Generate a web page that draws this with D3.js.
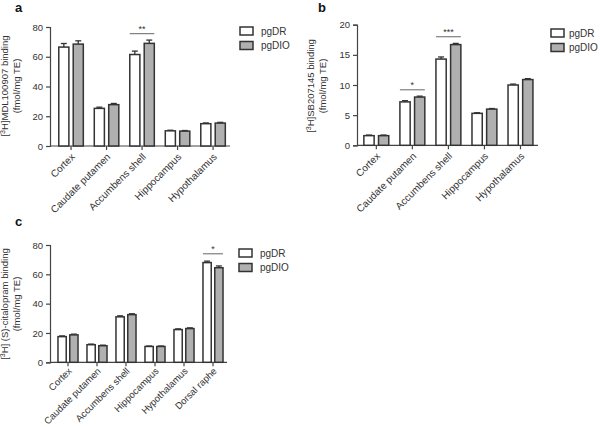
<!DOCTYPE html>
<html><head><meta charset="utf-8">
<script src="https://cdn.jsdelivr.net/npm/d3@7"></script>
<style>body{margin:0;background:#fff}svg{display:block}text{font-family:"Liberation Sans",Arial,sans-serif;fill:#333}</style>
</head><body>
<svg id="c" width="600" height="427"></svg>
<script>
const series = ["pgDR","pgDIO"];
const catsA = ["Cortex","Caudate putamen","Accumbens shell","Hippocampus","Hypothalamus"];
const drA = [66.5, 25.3, 61.5, 10.2, 15.0];
const dioA = [68.5, 27.8, 69.0, 10.0, 15.4];
const drAErr = [2.4, 0.8, 2.3, 0.4, 0.5];
const dioAErr = [2.2, 0.8, 2.2, 0.4, 0.5];
const ticksA = [0,20,40,60,80];

const catsB = ["Cortex","Caudate putamen","Accumbens shell","Hippocampus","Hypothalamus"];
const drB = [1.6, 7.2, 14.3, 5.3, 10.0];
const dioB = [1.6, 8.0, 16.7, 6.0, 10.9];
const drBErr = [0.1, 0.2, 0.35, 0.1, 0.15];
const dioBErr = [0.1, 0.15, 0.2, 0.1, 0.15];
const ticksB = [0,5,10,15,20];

const catsC = ["Cortex","Caudate putamen","Accumbens shell","Hippocampus","Hypothalamus","Dorsal raphe"];
const drC = [17.5, 12.0, 31.0, 10.8, 22.3, 68.0];
const dioC = [18.7, 11.3, 32.5, 10.8, 23.0, 64.5];
const drCErr = [0.5, 0.4, 0.7, 0.3, 0.5, 1.0];
const dioCErr = [0.5, 0.4, 0.6, 0.3, 0.5, 1.2];
const ticksC = [0,20,40,60,80];

const svg = d3.select("#c");

function panel(o){
  const g = svg.append("g");
  const y = d3.scaleLinear().domain([0, o.ymax]).range([o.y0, o.y1]);
  const x = d3.scaleBand().domain(o.cats).range([o.bx0, o.bx1]);
  const xs = d3.scaleBand().domain(series).range([0, x.bandwidth()]).paddingInner(0.3).paddingOuter(0.38);
  g.append("text").attr("x", o.lx).attr("y", o.ly).style("font-weight","bold").style("font-size","13px").style("fill","#111").text(o.letter);
  const ya = g.append("g").attr("transform",`translate(${o.ax},0)`).call(d3.axisLeft(y).tickValues(o.ticks).tickSize(4).tickPadding(3));
  ya.select(".domain").attr("stroke","#444").attr("stroke-width",1.2);
  ya.selectAll(".tick line").attr("stroke","#444").attr("stroke-width",1.2);
  ya.selectAll("text").style("font-size","9.5px").style("fill","#333");
  g.append("line").attr("x1",o.ax).attr("x2",o.axEnd).attr("y1",o.y0).attr("y2",o.y0).attr("stroke","#444").attr("stroke-width",1.2);
  o.cats.forEach(c=>{
    const cx = x(c)+x.bandwidth()/2;
    g.append("line").attr("x1",cx).attr("x2",cx).attr("y1",o.y0).attr("y2",o.y0+4).attr("stroke","#444").attr("stroke-width",1.2);
    g.append("text").attr("transform",`translate(${cx+2},${o.y0+o.labOff}) rotate(-45)`).attr("text-anchor","end").attr("dy","0.35em").style("font-size",o.labFs+"px").text(c);
  });
  const vals = [o.dr, o.dio], errs = [o.drErr, o.dioErr];
  const fills = ["#ffffff","#b0b0b0"];
  series.forEach((s,si)=>{
    o.cats.forEach((c,i)=>{
      const bx = x(c)+xs(s), bw = xs.bandwidth();
      const v = vals[si][i], e = errs[si][i];
      const mx = bx+bw/2;
      g.append("line").attr("x1",mx).attr("x2",mx).attr("y1",y(v)).attr("y2",y(v+e)).attr("stroke","#333").attr("stroke-width",1.3);
      g.append("line").attr("x1",mx-3).attr("x2",mx+3).attr("y1",y(v+e)).attr("y2",y(v+e)).attr("stroke","#333").attr("stroke-width",1.3);
      g.append("rect").attr("x",bx).attr("y",y(v)).attr("width",bw).attr("height",y(0)-y(v)).attr("fill",fills[si]).attr("stroke","#333").attr("stroke-width",1.5);
    });
  });
  o.sig.forEach(sg=>{
    const c = sg.cat;
    const xa = x(c)+xs(series[0]), xb = x(c)+xs(series[1])+xs.bandwidth();
    g.append("line").attr("x1",xa).attr("x2",xb).attr("y1",y(sg.v)).attr("y2",y(sg.v)).attr("stroke","#555").attr("stroke-width",0.9);
    g.append("text").attr("x",(xa+xb)/2).attr("y",y(sg.v)-2).attr("text-anchor","middle").style("font-size","9px").text(sg.t);
  });
  const lg = g.append("g").attr("transform",`translate(${o.ylx},${o.yly}) rotate(-90)`);
  lg.append("text").attr("text-anchor","middle").attr("y",0).style("font-size","9.5px").html(o.ylab);
  lg.append("text").attr("text-anchor","middle").attr("y",12).style("font-size","9.5px").text("(fmol/mg TE)");
  series.forEach((s,si)=>{
    const ly = o.legY + si*14.5;
    g.append("rect").attr("x",o.legX).attr("y",ly).attr("width",13).attr("height",8).attr("fill",fills[si]).attr("stroke","#333").attr("stroke-width",1.5);
    g.append("text").attr("x",o.legX+o.legGap).attr("y",ly+4).attr("dy","0.35em").style("font-size","10px").text(s);
  });
}

panel({letter:"a", lx:15, ly:12, ymax:80, ticks:ticksA, y0:146, y1:27, ax:50, axEnd:230, bx0:53.3, bx1:230.8,
  cats:catsA, dr:drA, dio:dioA, drErr:drAErr, dioErr:dioAErr, labFs:10, labOff:9,
  sig:[{cat:"Accumbens shell", v:75.5, t:"**"}],
  ylx:8, yly:86, ylab:'[<tspan dy="-3" style="font-size:7px">3</tspan><tspan dy="3">H]MDL100907 binding</tspan>',
  legX:240, legY:27, legGap:21});

panel({letter:"b", lx:318, ly:12, ymax:20, ticks:ticksB, y0:145.3, y1:24.7, ax:357, axEnd:538, bx0:358.3, bx1:538.5,
  cats:catsB, dr:drB, dio:dioB, drErr:drBErr, dioErr:dioBErr, labFs:10, labOff:9,
  sig:[{cat:"Caudate putamen", v:9.2, t:"*"},{cat:"Accumbens shell", v:18.0, t:"***"}],
  ylx:314, yly:86, ylab:'[<tspan dy="-3" style="font-size:7px">3</tspan><tspan dy="3">H]SB207145 binding</tspan>',
  legX:551, legY:29, legGap:18});

panel({letter:"c", lx:15, ly:226, ymax:80, ticks:ticksC, y0:362.3, y1:245, ax:50, axEnd:227, bx0:53.5, bx1:227.5,
  cats:catsC, dr:drC, dio:dioC, drErr:drCErr, dioErr:dioCErr, labFs:9.5, labOff:7,
  sig:[{cat:"Dorsal raphe", v:74, t:"*"}],
  ylx:8, yly:304, ylab:'[<tspan dy="-3" style="font-size:7px">3</tspan><tspan dy="3">H] (S)-citalopram binding</tspan>',
  legX:239, legY:249, legGap:21});
</script>
</body></html>
